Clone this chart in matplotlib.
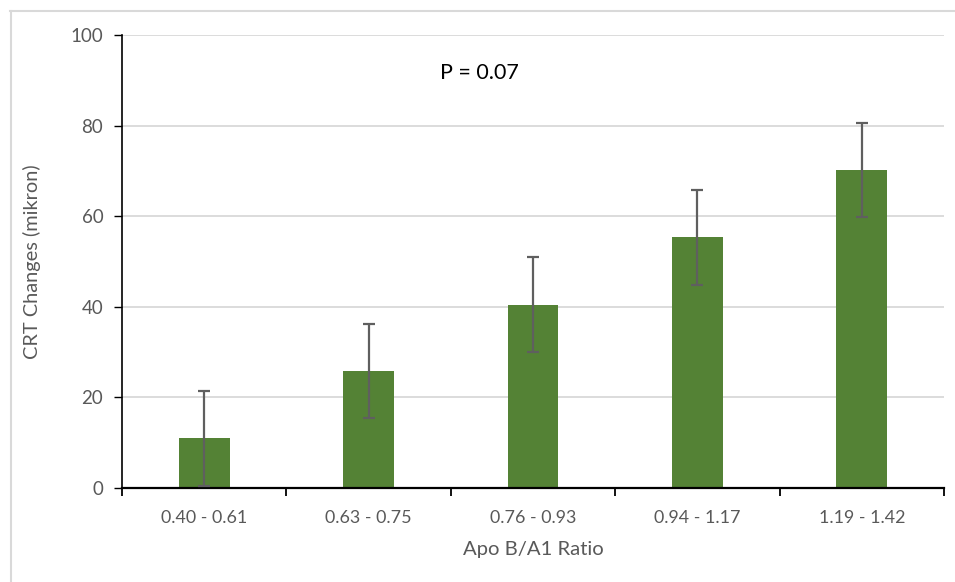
import matplotlib
matplotlib.use("Agg")
import matplotlib.pyplot as plt
from matplotlib.lines import Line2D

# Data
categories = ["0.40 - 0.61", "0.63 - 0.75", "0.76 - 0.93", "0.94 - 1.17", "1.19 - 1.42"]
crt_changes = [11.0, 25.8, 40.5, 55.3, 70.2]
crt_error = [10.5, 10.4, 10.4, 10.5, 10.4]
y_ticks = [0, 20, 40, 60, 80, 100]

plt.rcParams['font.family'] = ['Lato', 'DejaVu Sans']

text_grey = "#595959"
bar_green = "#548235"

fig = plt.figure(figsize=(9.55, 5.82), dpi=100)
ax = fig.add_axes([122 / 955, 1 - 488 / 582, (944 - 122) / 955, (488 - 35) / 582])

x = list(range(len(categories)))
ax.bar(x, crt_changes, width=0.31, color=bar_green, zorder=2)
ax.errorbar(x, crt_changes, yerr=crt_error, fmt="none", ecolor="#5f5f5f",
            elinewidth=1.6, capsize=4.5, capthick=1.6, zorder=3)

ax.set_xlim(-0.5, len(categories) - 0.5)
ax.set_ylim(0, 100)
ax.set_yticks(y_ticks)
ax.yaxis.grid(True, color="#d9d9d9", linewidth=1.3, zorder=0)
ax.set_axisbelow(True)

# category boundary ticks on the x axis
ax.set_xticks([i - 0.5 for i in range(len(categories) + 1)])
ax.set_xticklabels([])
ax.set_xticks(x, minor=True)
ax.set_xticklabels(categories, minor=True)
ax.tick_params(axis="x", which="major", length=6, width=1.3, color="black", direction="out")
ax.tick_params(axis="x", which="minor", length=0, pad=16, labelsize=12.9, labelcolor=text_grey)
ax.tick_params(axis="y", length=6, width=1.0, color="black", labelsize=13.5,
               labelcolor=text_grey, pad=7.5)

for side in ["top", "right"]:
    ax.spines[side].set_visible(False)
ax.spines["left"].set_color("black")
ax.spines["left"].set_linewidth(1.2)
ax.spines["bottom"].set_color("black")
ax.spines["bottom"].set_linewidth(1.6)

ax.set_ylabel("CRT Changes (mikron)", fontsize=14.4, color=text_grey, labelpad=21)
ax.set_xlabel("Apo B/A1 Ratio", fontsize=14.6, color=text_grey, labelpad=11)

fig.text(479 / 955, 1 - 73 / 582, "P = 0.07", fontsize=15.5, color="black",
         ha="center", va="center")

# chart frame edges
fig.add_artist(Line2D([10 / 955, 1], [1 - 11 / 582, 1 - 11 / 582],
                      transform=fig.transFigure, color="#d9d9d9", linewidth=1.5))
fig.add_artist(Line2D([11 / 955, 11 / 955], [0, 1 - 11 / 582],
                      transform=fig.transFigure, color="#d9d9d9", linewidth=1.5))

fig.savefig("out.png", dpi=100)
